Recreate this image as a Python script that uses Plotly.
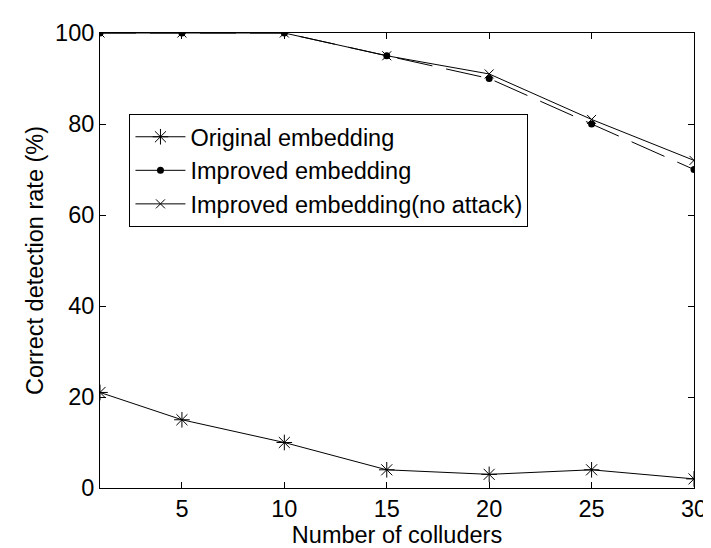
import plotly.graph_objects as go

colluders = [1, 5, 10, 15, 20, 25, 30]
original = [21, 15, 10, 4, 3, 4, 2]
improved = [100, 100, 100, 95, 90, 80, 70]
improved_no_attack = [100, 100, 100, 95, 91, 81, 72]
names = ["Original embedding", "Improved embedding", "Improved embedding(no attack)"]
x_ticks = [5, 10, 15, 20, 25, 30]
y_ticks = [0, 20, 40, 60, 80, 100]

FONT = "Liberation Sans, Arial, sans-serif"
FS = 23.5
fig = go.Figure()

star = dict(symbol="asterisk-open", size=13, color="black", line=dict(width=1, color="black"))
dot = dict(symbol="circle", size=7, color="black")
cross = dict(symbol="x-thin-open", size=9, color="black", line=dict(width=1, color="black"))

# visible data traces
fig.add_trace(go.Scatter(x=colluders, y=original, mode="lines+markers", showlegend=False,
                         line=dict(color="black", width=1), marker=star))
fig.add_trace(go.Scatter(x=colluders, y=improved, mode="lines+markers", showlegend=False,
                         line=dict(color="black", width=1, dash="36px,14px"), marker=dot))
fig.add_trace(go.Scatter(x=colluders, y=improved_no_attack, mode="lines+markers", showlegend=False,
                         line=dict(color="black", width=1), marker=cross))

# legend entries (solid sample lines)
for nm, mk in zip(names, [star, dot, cross]):
    fig.add_trace(go.Scatter(x=[None], y=[None], mode="lines+markers", name=nm,
                             line=dict(color="black", width=1), marker=mk))

axis_common = dict(showline=True, linecolor="black", linewidth=1, mirror="ticks",
                   ticks="inside", ticklen=6, tickcolor="black", showgrid=False,
                   zeroline=False, tickfont=dict(family=FONT, size=FS, color="black"))

fig.update_layout(
    width=711, height=548,
    margin=dict(l=92, r=14, t=16, b=68),
    paper_bgcolor="white", plot_bgcolor="white",
    font=dict(family=FONT, size=FS, color="black"),
    xaxis=dict(range=[1, 30], tickvals=x_ticks,
               title=dict(text="Number of colluders", font=dict(family=FONT, size=FS), standoff=0),
               **axis_common),
    yaxis=dict(range=[0, 100], tickvals=y_ticks,
               title=dict(text="Correct detection rate (%)", font=dict(family=FONT, size=FS), standoff=4),
               **axis_common),
    legend=dict(x=0.0496, y=0.822, xanchor="left", yanchor="top",
                bgcolor="white", bordercolor="black", borderwidth=1,
                font=dict(family=FONT, size=FS, color="black"),
                tracegroupgap=0, itemwidth=50),
)

fig.write_html("out.html")
